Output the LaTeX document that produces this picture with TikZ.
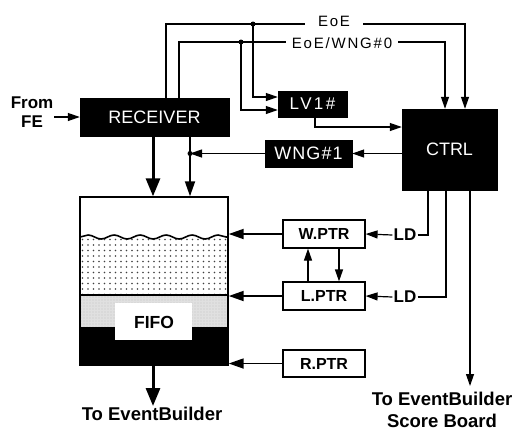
\documentclass[tikz,border=0pt]{standalone}
\usepackage{fontspec}
\setmainfont{Liberation Sans}
\usetikzlibrary{arrows.meta,decorations.pathmorphing,patterns.meta}
\begin{document}
\begin{tikzpicture}[x=1pt,y=-1pt,
  ln/.style={line width=1.2pt},
  arr/.style={ln,-{Triangle[length=12pt,width=8pt]}},
  medarr/.style={line width=1.8pt,-{Triangle[length=15pt,width=10pt]}},
  bigarr/.style={line width=3pt,-{Triangle[length=18pt,width=14pt]}},
  blackbox/.style={fill=black,draw=black,text=white,inner sep=0pt,font=\fontsize{18}{20}\selectfont},
  ptrbox/.style={draw=black,line width=1.2pt,minimum width=82pt,minimum height=28pt,inner sep=0pt,font=\bfseries\fontsize{16}{18}\selectfont},
  lbl/.style={font=\bfseries\fontsize{17}{19}\selectfont,align=center,inner sep=1pt},
  biglbl/.style={font=\bfseries\fontsize{18.5}{22.5}\selectfont,align=center,inner sep=1pt},
  sig/.style={fill=white,inner ysep=3pt,font=\fontsize{15}{17}\selectfont\addfontfeatures{LetterSpace=12}},
  dot/.style={circle,fill=black,inner sep=0pt,minimum size=5pt}
]
\useasboundingbox (0,0) rectangle (513,432);

% FIFO interior
\fill[pattern={Dots[distance=5.5pt,radius=0.8pt]},pattern color=black!75]
  (80,237) decorate[decoration={snake,segment length=26pt,amplitude=2pt}]{-- (228,237)} -- (228,295) -- (80,295) -- cycle;
\fill[black!12] (80,295) rectangle (228,327);
\fill[pattern={Dots[distance=3pt,radius=0.45pt]},pattern color=black!45] (80,295) rectangle (228,327);
\fill[black] (80,327) rectangle (228,365);
\fill[white] (115,303) rectangle (192,340);
\draw[line width=1.6pt] (80,237) decorate[decoration={snake,segment length=26pt,amplitude=2pt}]{-- (228,237)};
\draw[line width=2pt] (80,295) -- (228,295);
\node[draw,line width=1.4pt,minimum width=148pt,minimum height=168pt,inner sep=0pt] (fifo) at (154,281) {};
\node[font=\bfseries\fontsize{17.5}{19}\selectfont] (fifotxt) at (154,322) {FIFO};

% blocks
\node[blackbox,minimum width=149pt,minimum height=38pt] (rec) at (154.5,117) {RECEIVER};
\node[blackbox,minimum width=95pt,minimum height=81pt] (ctrl) at (449.5,149.5) {CTRL};
\node[blackbox,minimum width=69pt,minimum height=26pt,font=\fontsize{17}{19}\selectfont\addfontfeatures{LetterSpace=14}] (lv) at (312.5,104) {LV1\#};
\node[blackbox,minimum width=87pt,minimum height=27pt,font=\fontsize{18}{20}\selectfont\addfontfeatures{LetterSpace=6}] (wng) at (308.5,153.5) {WNG\#1};

\node[ptrbox] (wptr) at (324,234) {W.PTR};
\node[ptrbox] (lptr) at (324,296) {L.PTR};
\node[ptrbox,minimum height=27pt] (rptr) at (324,363.5) {R.PTR};

\node[lbl] (ld1) at (405,235) {LD};
\node[lbl] (ld2) at (405,297) {LD};
\node[lbl] (from) at (32,112) {From\\FE};
\node[biglbl] (toeb) at (152,414) {To EventBuilder};
\node[biglbl] (tosb) at (442,410) {To EventBuilder\\Score Board};

% coordinates
\coordinate (e1) at (166,24); \coordinate (e2) at (465,24);
\coordinate (w1) at (179,42); \coordinate (w2) at (445,42);
\coordinate (d1) at (253,24); \coordinate (d2) at (241,42);
\coordinate (l1) at (253,97); \coordinate (l2) at (241,110);
\coordinate (k1) at (315,127);
\coordinate (j3) at (190,153.5);
\coordinate (a1) at (153,0); \coordinate (a2) at (190,0);
\coordinate (u1) at (308,0); \coordinate (u2) at (339,0);
\coordinate (c1) at (428,0); \coordinate (c2) at (446,0); \coordinate (c3) at (470,0);
\coordinate (sbend) at (470,386);

% connectors
\draw[arr] (rec.north -| e1) -- (e1) -- (e2) -- (ctrl.north -| e2);
\draw[arr] (rec.north -| w1) -- (w1) -- (w2) -- (ctrl.north -| w2);
\draw[arr] (d1) -- (l1) -- (lv.west |- l1);
\draw[arr] (d2) -- (l2) -- (lv.west |- l2);
\node[dot] (dd1) at (d1) {};
\node[dot] (dd2) at (d2) {};
\node[sig,inner xsep=13pt] (eoe) at (334,21) {EoE};
\node[sig,inner xsep=6pt] (eoew) at (342,43) {EoE/WNG\#0};

\draw[arr] (lv.south -| k1) -- (k1) -- (ctrl.west |- k1);
\draw[arr] (ctrl.west |- wng.east) -- (wng.east);
\draw[arr] (wng.west) -- (j3);

\draw[bigarr] (rec.south -| a1) -- (fifo.north -| a1);
\draw[medarr] (rec.south -| a2) -- (fifo.north -| a2);
\node[dot] (dj3) at (j3) {};

\draw[medarr] (wptr.west) -- (fifo.east |- wptr.west);
\draw[medarr] (lptr.west) -- (fifo.east |- lptr.west);
\draw[medarr] (rptr.west) -- (fifo.east |- rptr.west);
\draw[arr] (lptr.north -| u1) -- (wptr.south -| u1);
\draw[arr] (wptr.south -| u2) -- (lptr.north -| u2);

\draw[arr] (ld1.west) -- (wptr.east);
\draw[arr] (ld2.west) -- (lptr.east);
\draw[ln] (ld1.east) -| (ctrl.south -| c1);
\draw[ln] (ld2.east) -| (ctrl.south -| c2);
\draw[arr] (ctrl.south -| c3) -- (sbend);

\draw[bigarr] (fifo.south -| a1) -- (toeb.north -| a1);
\draw[arr] (from.east |- rec.west) -- (rec.west);
\end{tikzpicture}
\end{document}
